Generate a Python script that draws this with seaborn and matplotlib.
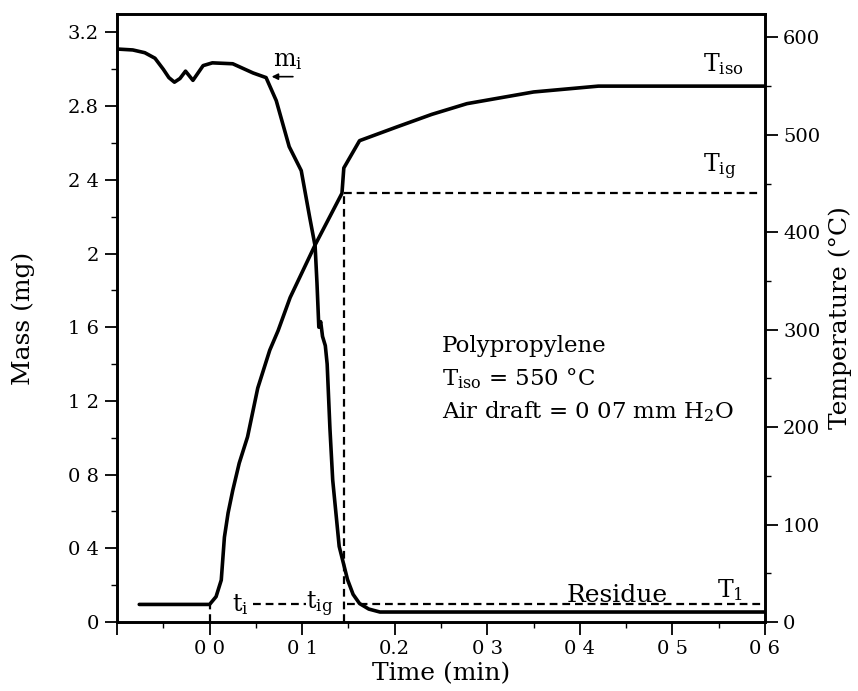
import numpy as np
import pandas as pd
import matplotlib
matplotlib.use("Agg")
import matplotlib.pyplot as plt
import seaborn as sns
from matplotlib.ticker import MultipleLocator, FixedLocator, FixedFormatter

# mass trace (mg)
time_mass = [-0.100, -0.083, -0.070, -0.059, -0.050, -0.044, -0.038, -0.032, -0.026,
             -0.018, -0.007, 0.003, 0.025, 0.047, 0.061, 0.072, 0.086, 0.099,
             0.108, 0.114, 0.116, 0.118, 0.120, 0.122, 0.125, 0.127, 0.130,
             0.133, 0.140, 0.149, 0.155, 0.162, 0.172, 0.184, 0.600]
mass = [3.11, 3.105, 3.09, 3.06, 3.00, 2.955, 2.93, 2.95, 2.99,
        2.94, 3.02, 3.035, 3.03, 2.98, 2.955, 2.83, 2.58, 2.45,
        2.20, 2.04, 1.84, 1.60, 1.63, 1.55, 1.50, 1.40, 1.05,
        0.77, 0.41, 0.23, 0.15, 0.10, 0.07, 0.054, 0.054]

# temperature trace (degC)
time_temp = [-0.076, 0.000, 0.007, 0.0126, 0.016, 0.020, 0.025, 0.032, 0.041,
             0.052, 0.065, 0.074, 0.087, 0.114, 0.143, 0.145, 0.162,
             0.202, 0.240, 0.278, 0.350, 0.420, 0.600]
temp = [18, 18, 26, 43, 87, 112, 135, 163, 190,
        240, 279, 299, 333, 387, 440, 466, 494,
        508, 521, 532, 544, 550, 550]

# characteristic points
t_i = 0.0
t_ig = 0.145
T_ig = 440
T_1 = 18
T_iso = 550

x_ticks = [-0.1, 0.0, 0.1, 0.2, 0.3, 0.4, 0.5, 0.6]
x_ticklabels = ["", "0 0", "0 1", "0.2", "0 3", "0 4", "0 5", "0 6"]
mass_ticks = [0, 0.4, 0.8, 1.2, 1.6, 2.0, 2.4, 2.8, 3.2]
mass_ticklabels = ["0", "0 4", "0 8", "1 2", "1 6", "2", "2 4", "2.8", "3.2"]
temp_ticks = [0, 100, 200, 300, 400, 500, 600]
temp_ticklabels = ["0", "100", "200", "300", "400", "500", "600"]

sns.set_style("ticks")
plt.rcParams['font.family'] = ['DejaVu Serif']
plt.rcParams['mathtext.fontset'] = 'dejavuserif'
plt.rcParams['mathtext.default'] = 'rm'
for key in ['text.color', 'axes.labelcolor', 'xtick.color', 'ytick.color', 'axes.edgecolor']:
    plt.rcParams[key] = 'black'

fig = plt.figure(figsize=(8.58, 6.91), dpi=100)
ax = fig.add_axes([0.1364, 0.0999, 0.7552, 0.8798])
ax2 = ax.twinx()

df_mass = pd.DataFrame({"time": time_mass, "mass": mass})
df_temp = pd.DataFrame({"time": time_temp, "temp": temp})
sns.lineplot(data=df_mass, x="time", y="mass", ax=ax, color="black",
             linewidth=2.6, sort=False, estimator=None)
sns.lineplot(data=df_temp, x="time", y="temp", ax=ax2, color="black",
             linewidth=2.6, sort=False, estimator=None)

# dashed construction lines
dash = dict(color="black", linewidth=1.6, linestyle=(0, (3.5, 2.2)))
ax2.plot([t_ig, t_ig], [0, T_ig], **dash)
ax2.plot([t_ig, 0.592], [T_ig, T_ig], **dash)
ax2.plot([t_i, t_i], [0, T_1], **dash)
ax2.plot([0.047, 0.104], [T_1, T_1], **dash)
ax2.plot([0.148, 0.6], [T_1, T_1], **dash)

ax.set_xlim(-0.1, 0.6)
ax.set_ylim(0, 3.3)
ax2.set_ylim(0, 624)

ax.xaxis.set_major_locator(FixedLocator(x_ticks))
ax.xaxis.set_major_formatter(FixedFormatter(x_ticklabels))
ax.xaxis.set_minor_locator(MultipleLocator(0.05))
ax.yaxis.set_major_locator(FixedLocator(mass_ticks))
ax.yaxis.set_major_formatter(FixedFormatter(mass_ticklabels))
ax.yaxis.set_minor_locator(MultipleLocator(0.2))
ax2.yaxis.set_major_locator(FixedLocator(temp_ticks))
ax2.yaxis.set_major_formatter(FixedFormatter(temp_ticklabels))
ax2.yaxis.set_minor_locator(MultipleLocator(50))

for a in (ax, ax2):
    a.tick_params(which="major", direction="out", length=9, width=1.3,
                  labelsize=14, pad=4, colors="black")
    a.tick_params(which="minor", direction="out", length=4, width=1.0, colors="black")
    for s in a.spines.values():
        s.set_visible(True)
        s.set_linewidth(1.9)
        s.set_color("black")
ax.tick_params(top=False, right=False, which="both")

ax.set_xlabel("Time (min)", fontsize=18)
ax.set_ylabel("Mass (mg)", fontsize=18)
ax2.set_ylabel("Temperature (°C)", fontsize=18)
ax.xaxis.set_label_coords(0.5, -0.066)
ax.yaxis.set_label_coords(-0.127, 0.5)
ax2.yaxis.set_label_coords(1.098, 0.5)

# annotations
ax.annotate("", xy=(0.064, 2.96), xytext=(0.093, 2.96),
            arrowprops=dict(arrowstyle="-|>", color="black", lw=1.2, mutation_scale=9))
ax.text(0.068, 3.05, "m$_{\\mathrm{i}}$", fontsize=17, va="center", ha="left")
ax2.text(0.533, 573, "T$_{\\mathrm{iso}}$", fontsize=17, va="center", ha="left")
ax2.text(0.533, 467, "T$_{\\mathrm{ig}}$", fontsize=17, va="center", ha="left")
ax2.text(0.548, 33, "T$_{\\mathrm{1}}$", fontsize=17, va="center", ha="left")
ax2.text(0.386, 21, "Residue", fontsize=18, va="baseline", ha="left")
ax2.text(0.024, 18, "t$_{\\mathrm{i}}$", fontsize=17, va="center", ha="left")
ax2.text(0.104, 18, "t$_{\\mathrm{ig}}$", fontsize=17, va="center", ha="left")

ax.text(0.251, 1.50, "Polypropylene", fontsize=16.5, va="center", ha="left")
ax.text(0.251, 1.32, "T$_{\\mathrm{iso}}$ = 550 °C", fontsize=16.5, va="center", ha="left")
ax.text(0.251, 1.14, "Air draft = 0 07 mm H$_{\\mathrm{2}}$O", fontsize=16.5, va="center", ha="left")

plt.savefig("out.png", dpi=100)
